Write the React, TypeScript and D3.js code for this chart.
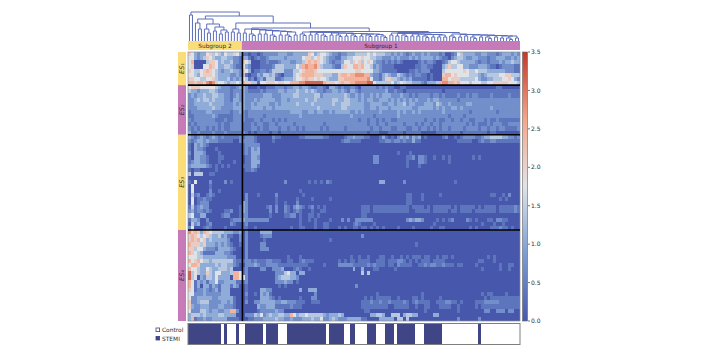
import React from "react";
import * as d3 from "d3";

// ---- Heatmap values: every digit is one cell, value = digit * 0.35 ----
const es1Rows = [
"6532335645 4354465311 0110122222 3332233333 6534554322 1223334444 5454443323 2321232232 3222120012 5433332233 2221233323 2",
"5532346543 3443322133 1012112333 3323333356 6456543221 1334455565 5443322232 3222323233 3323211023 4432233222 1223332232 3",
"5700004665 3433422165 4000112111 2333223346 7676543212 2355465645 6532212121 2100000121 2210012455 4333332122 1222323343 3",
"5600055765 3344321153 2000111124 4433335478 7786433321 1465577675 5423211110 0000001122 1100034644 5533222333 2110122221 1",
"6544567654 3233433265 3011221244 4422244567 7765555555 5555556655 5533211111 0000112122 2000045555 5565445444 3333332221 1",
"5543566654 3333223241 0113244342 1022245677 7766644433 6776778887 7322134322 4321212211 0100067756 5555444323 4444556644 4",
"6655445564 3334232354 1202314441 1233345567 6656554333 6677777777 8522136644 3232311111 0100077566 6444445322 3344455653 2",
"7767768986 5543445476 6441556665 6655777889 9999976665 6766778888 9954444453 4564433321 3334788776 7555455544 5566666555 4",
];
const es2Rows = [
"5666555554 3222112332 0001001112 2212233233 2112210332 1211221022 2221212110 0110000000 0000000000 0000000000 0001100000 0",
"4332333443 2222122232 1111212222 3323334334 3432212233 2321332122 2222223112 1101111111 1111101111 1111111111 1111111111 1",
"2323343344 3322123232 2222233322 2333344333 3344233333 3343223232 2323233322 2322121222 2122121111 2112122111 1211111211 1",
"2234344343 3322133232 2232333332 2332333334 3343333344 3344333232 3322333232 3232323222 3233222222 1222222222 2222222222 2",
"2233333433 3322232332 2323333223 2333334333 3433333343 3444333332 2333322332 3342332223 3324322322 2223322222 2222222222 2",
"2223333343 3222233332 2333323323 3333333333 3334333333 3443333332 2332333233 3333322333 3323232233 2322222222 2322222222 2",
"1222223322 2222122321 2222222222 2222333322 3323322323 3333223232 2222322222 3232232322 2222232222 2222122222 2221222222 2",
"1122222232 1111122221 2222212222 2222222322 2222222222 2222322222 2212222222 3222222222 2222222122 2212222222 2222222222 2",
"2122222221 1121122221 1122122212 1212222222 2222222222 2222222122 1221212211 2222222221 2212112212 2122112221 2112111111 1",
"1212222222 1211222211 1212211221 2222212222 2222212222 2222222222 1221221222 2212221212 2122122222 2221212111 2122211222 2",
"2121221212 1211222211 1221211222 1221221212 2222121222 2212222222 2122122211 2221122122 1212122122 2212222122 1221221111 2",
"3112111121 1121111121 0101111011 0111111111 1111111111 1111111111 0111000111 1101111100 0001111111 1011111111 0110000000 0",
];
const es3Rows = [
"3212321232 1211111212 2210000021 1000000112 2222211000 0012232221 1000131010 2323132301 0000012001 0122221123 3444433221 2",
"2123323222 1111100222 2210000010 0000000000 0000000000 0122111100 0000112212 2121131100 0000000000 1111100121 1221111111 1",
"1032321000 0000000012 2222000000",
"1032210001 0000000012 1323000000",
"2033320000 1000000012 1333000000 0000000000 0000000000 0000000000 0000000000 1000100000",
"1033221000 1100000001 1332000000 0000000000 0000000000 0000000000 0022000000 0001120221 0010010100 0000010100 0000000000 0",
"1233221000 1000010001 1333000000 0000000000 0000000000 0000000000 0022000000 0001000221 0000000100 0000000000 0",
"2333332101 0101000011 1331000000 0000000000 0000000000 0000000000 0000000000 0001000100",
"1011000001 0000000001 1210000000",
"4044400110 0000000000 0000000000",
"0000000000 0000000000 0000000000",
"1050000200 0020100000 0000000000 0020000000 1010102100 0000000000 0000330000 0020000000 0000000001 0",
"0500000100 0000000000 0000000000",
"0500000200 1000000000 0000000000 0000000100",
"0412001210 0000000002 0001000002 0000000010 0000000000 0000000000 0000000000 0001100010 0000100000 0000000000 0110010200 0",
"0501121100 0000000002 0000000001 0000001000 0100000100 0000000000 0000000000 0001100010 0000000000 0000000000 0000101000 0",
"0501222000 0000000032 0000000001 0010002000 0000000000 0000000000 0000000000 0001100000",
"1412322000 0000000132 0000001202 0021023210 1201010000 0000000011 1011111111 1111011110 1011111101 0111110101 1110111112 1",
"2312212100 0011200132 0000000202 0021012100 0100110000 0000000011 1011111111 1111001111 1011111011 0111101111 1110111112 1",
"4511330000 0122000122 0000000100 0011220100 1101000000 0000000011",
"1332002000 0000122232 2222222000 0000000100 1010000100 0202002222 2200000000 0002323320 0001010120 0002101000 1102211000 0",
"0423001200 0000210012 0000000000 0000000100 0010011000 0000012100 0010000000 0000000000 0010000000 0000000010 0010010000 0",
"2500012100 0010000011 0010000000 0000100110 0010011000 1010011011 0101010000 1000010000 0100110000 0000101000 0111211010 0",
];
const es4Rows = [
"8676376544 4433322302 0000333300 0000000000 0000000000 0000000000 0",
"6765456433 4231100202 0000122200 0000000000 0000000000 0000000020 0",
"6767563433 3332000202 0000010000 0000000000 0000000100 0",
"7666463332 3232100102 0000220000 0000000000 0000000000 0000000000 0000000000 0000001000",
"6645532221 3333210002 0000222000",
"7654311113 3322100002 0000000000",
"5554433333 3332220002 0000000000 0001000100 0000000000 0000100100 1000110010 0101011101 1001011010 0000000000 1010000000 0",
"7567544344 4444421112 2121112211 1001100121 1100000000 1010110111 1001110111 2210101011 1011110000 0000000110 0010000000 0",
"5776333334 3443321002 2232112222 1111111111 0000010000 2222211111 2121110110 2111100112 1221121110 1100001000 0000100110 0",
"7554335433 4443400012 0000220022 2300012100 1000000000 0000030030 0011000001 0000000000 0000000000 0000000010 0000100100 0",
"9454336435 5333477512 0000000002 2245330330 0000000000 0000000040 4000000000",
"9450324435 3333077552 0000000002 3444332000",
"7513231335 2233331112 0000000002 2232201000",
"7513033132 1333132001 0000000000 1010000000 0000000000 0000002000",
"6512232123 1333000001 0000332200 0000000300 3330000000",
"5522232222 2333000002 0010323100 0000000000 0020000000 0000000000 0001000000 0000000010 0000000000 0000000010 1100001",
"5223333322 3333310001 0000333210 1000000100 0220000000 0000000001 0101111100 1000011010 0000100000 0000000001 0111111111 1",
"6223444222 2332310002 0022333332 2332221110 0111000000 0000000011 1211211211 1121012111 1001112211 0100001112 2222111111 1",
"6322333222 3322210000 0003223331 1111211100 0000000000 0000000011 1111111001 1111001001 1000111100 1000001011 1111111111 1",
"5222443233 2233772000 0001222223 2200000000 0000000000 0000000001 1000000000 0000000001 0000000000 1000000002 2002220220 0",
"3444343333 4433330002 2243523433 4433753445 4444432333 4300000000 0334430044 4034433000 0033000000",
"3712232233 3331111000 1122233334 3322322233 3433522343 2223333311 0000333330 4404000000 0000000000 2000000200 0",
];

const moduleNames = ["ES₁", "ES₂", "ES₃", "ES₄"];
const subgroupNames = ["Subgroup 2", "Subgroup 1"];
const subgroupSizes = [18, 93];
const legendNames = ["Control", "STEMI"];
// alternating run lengths of columns: STEMI, Control, STEMI, ...
const statusRuns = [11,1,1,3,1,2,6,1,4,3,13,1,5,2,2,4,3,3,3,1,6,3,6,12,1,13];
const colorTicks = [0, 0.5, 1, 1.5, 2, 2.5, 3, 3.5];

// ---- Dendrogram: [height, left, right], 0 = leaf ----
const sub2Pair = [26, 0, 0];
const sub2Main = [22, [18, 0, [12, 0, 0]], [17, [12, 0, [8, 0, 0]], [14, [10, 0, 0], [11, [7, 0, 0], [9, 0, 0]]]]];
const sub2Last = [12, [9, 0, 0], [8, 0, 0]];
// [spine height, group height, leaves in group]
const chainA = [[12,8,2],[11.5,7,3],[11,7,2],[10.5,7,2],[10,6,3],[9.5,6,2],[9,6,3],[9,6,2]];
const chainB = [[9,7,3],[9,6,2],[8.5,7,2],[8.5,6,3],[8,6,2],[8,6,3],[7.5,5,2],[7.5,6,3],[7,5,2],[7,6,3],[6.5,5,2],[6.5,5,3]];
const chainC = [[8,6,2],[7.5,5,2],[7.5,6,3],[7,5,2],[7,5,2],[6.5,5,3],[6.5,4,2],[6,4,2],[6,4,2]];
const chainD = [[7,5,3],[6.5,4,2],[6.5,5,2],[6,4,3],[6,4,2],[5.5,4,3],[5.5,4,2],[5,3,2],[5,3,3],[4.5,3,2]];
const joinHeights = { root: 29, upper: 25, both: 18, sub1: 13, bc: 9.5, cd: 8.5 };

type Node = 0 | any[];
const group = ([, h, n]: number[]): Node =>
  n === 1 ? 0 : n === 2 ? [h, 0, 0] : [h, 0, [h - 1.5, 0, 0]];
const chain = (rows: number[][]): Node => {
  let node = group(rows[rows.length - 1]);
  for (let i = rows.length - 2; i >= 0; i--) node = [rows[i][0], group(rows[i]), node];
  return node;
};
const sub1Tree: Node = [joinHeights.sub1, chain(chainA),
  [joinHeights.bc, chain(chainB), [joinHeights.cd, chain(chainC), chain(chainD)]]];
const fullTree: Node = [joinHeights.root, sub2Pair,
  [joinHeights.upper, sub2Main, [joinHeights.both, sub2Last, sub1Tree]]];

const W = 704, H = 352;
const X0 = 188, X1 = 520, Y0 = 52, Y1 = 321;
const cols = d3.range(111);
const allRows = [...es1Rows, ...es2Rows, ...es3Rows, ...es4Rows];
const parsed = allRows.map((s) => {
  const t = s.replace(/\s/g, "").padEnd(111, "0").slice(0, 111);
  return Array.from(t).map((c) => +c * 0.35);
});
const blockSizes = [es1Rows.length, es2Rows.length, es3Rows.length, es4Rows.length];
const x = d3.scaleBand<number>().domain(cols).range([X0, X1]).padding(0);
const y = d3.scaleBand<number>().domain(d3.range(parsed.length)).range([Y0, Y1]).padding(0);
const color = d3.scaleLinear<string>()
  .domain([0, 0.9, 1.75, 2.6, 3.5])
  .range(["#4759ac", "#7e9fd4", "#dfe3e8", "#f6a88c", "#c0392b"]);
const colorY = d3.scaleLinear().domain([0, 3.5]).range([Y1, Y0]);
const dendroY = d3.scaleLinear().domain([0, 29]).range([41, 12]);

const YELLOW = "#fadd78";
const PURPLE = "#c77ab8";
const INK = "#2b2b2b";
const FONT = "'DejaVu Sans', sans-serif";

function dendroPaths(): string[] {
  const out: string[] = [];
  let leaf = 0;
  const walk = (n: Node): { px: number; h: number } => {
    if (n === 0) {
      const c = leaf++;
      return { px: x(c)! + x.bandwidth() / 2, h: 0 };
    }
    const [h, l, r] = n as any[];
    const a = walk(l);
    const b = walk(r);
    const p = d3.path();
    p.moveTo(a.px, dendroY(a.h));
    p.lineTo(a.px, dendroY(h));
    p.lineTo(b.px, dendroY(h));
    p.lineTo(b.px, dendroY(b.h));
    out.push(p.toString());
    return { px: (a.px + b.px) / 2, h };
  };
  walk(fullTree);
  return out;
}

export default function App() {
  const edges = d3.cumsum(blockSizes);
  const starts = [0, ...Array.from(edges)];
  const boundary = (i: number) => (i >= parsed.length ? Y1 : y(i)!);
  const splitCol = subgroupSizes[0];
  let sc = 0;
  const runs = statusRuns.map((n, i) => {
    const r = { start: sc, n, on: i % 2 === 0 };
    sc += n;
    return r;
  });
  let gc = 0;
  return (
    <svg width={W} height={H} style={{ position: "absolute", left: 0, top: 0, display: "block", background: "#fff" }} fontFamily={FONT}>
      <defs>
        <linearGradient id="cb" x1="0" y1="1" x2="0" y2="0">
          {d3.range(0, 1.001, 0.125).map((t) => (
            <stop key={t} offset={t} stopColor={color(t * 3.5)} />
          ))}
        </linearGradient>
        <filter id="soft" x="-1%" y="-1%" width="102%" height="102%">
          <feGaussianBlur stdDeviation="0.5" />
        </filter>
        <filter id="softLine" x="-2%" y="-10%" width="104%" height="120%">
          <feGaussianBlur stdDeviation="0.3" />
        </filter>
        <clipPath id="hm"><rect x={X0} y={Y0} width={X1 - X0} height={Y1 - Y0} /></clipPath>
      </defs>

      {/* dendrogram */}
      <g fill="none" stroke="#5f6fbd" strokeWidth={1} filter="url(#softLine)">
        {dendroPaths().map((d, i) => <path key={i} d={d} />)}
      </g>

      {/* subgroup strip */}
      {subgroupSizes.map((n, i) => {
        const c0 = gc;
        gc += n;
        const left = x(c0)!;
        const right = c0 + n >= 111 ? X1 : x(c0 + n)!;
        return (
          <g key={i}>
            <rect x={left} y={41} width={right - left} height={9} fill={i === 0 ? YELLOW : PURPLE} />
            <text x={i === 0 ? 215 : 381} y={47.6} fontSize={5.8} textAnchor="middle" fill={INK}>{subgroupNames[i]}</text>
          </g>
        );
      })}

      {/* module strip */}
      {moduleNames.map((m, i) => {
        const a = boundary(starts[i]);
        const b = boundary(starts[i + 1]);
        const cy = (a + b) / 2;
        return (
          <g key={m}>
            <rect x={178} y={a} width={8} height={b - a} fill={i % 2 === 0 ? YELLOW : PURPLE} />
            <text transform={`translate(184.3,${cy}) rotate(-90)`} fontSize={6.5} fontStyle="italic" textAnchor="middle" fill={INK}>{m}</text>
          </g>
        );
      })}

      {/* heatmap cells */}
      <g clipPath="url(#hm)">
        <g shapeRendering="crispEdges" filter="url(#soft)">
          {parsed.map((row, r) =>
            row.map((v, c) => (
              <rect key={`${r}-${c}`} x={x(c)} y={y(r)} width={x.bandwidth() + 0.4} height={y.bandwidth() + 0.4} fill={color(v)} />
            ))
          )}
        </g>
      </g>
      <rect x={X0} y={Y0} width={X1 - X0} height={Y1 - Y0} fill="none" stroke="#8a8a8a" strokeWidth={0.7} />

      {/* block separators */}
      <g stroke="#000" strokeWidth={1.6}>
        {[starts[1], starts[2], starts[3]].map((s) => (
          <line key={s} x1={X0} x2={X1} y1={boundary(s)} y2={boundary(s)} />
        ))}
        <line x1={x(splitCol)! + 0.6} x2={x(splitCol)! + 0.6} y1={Y0} y2={Y1} />
      </g>

      {/* colorbar */}
      <rect x={522.5} y={Y0} width={5} height={Y1 - Y0} fill="url(#cb)" stroke="#666" strokeWidth={0.6} />
      {colorTicks.map((t) => (
        <g key={t}>
          <line x1={528} x2={530} y1={colorY(t)} y2={colorY(t)} stroke="#333" strokeWidth={0.7} />
          <text x={531} y={colorY(t) + 2.1} fontSize={6} fill={INK}>{t.toFixed(1)}</text>
        </g>
      ))}

      {/* status strip */}
      <g shapeRendering="crispEdges">
        {runs.filter((r) => r.on).map((r) => (
          <rect key={r.start} x={x(r.start)} y={323.5} width={x.bandwidth() * r.n} height={21} fill="#3f4585" />
        ))}
      </g>
      <rect x={X0} y={323.5} width={X1 - X0} height={21} fill="none" stroke="#7f7f7f" strokeWidth={1} />

      {/* legend */}
      <rect x={156} y={328} width={3.6} height={3.6} fill="#fff" stroke="#3f4585" strokeWidth={0.8} />
      <text x={162} y={332.2} fontSize={5.9} fill={INK}>{legendNames[0]}</text>
      <rect x={156} y={336.4} width={3.6} height={3.6} fill="#3f4585" stroke="#3f4585" strokeWidth={0.8} />
      <text x={162} y={340.6} fontSize={5.9} fill={INK}>{legendNames[1]}</text>
    </svg>
  );
}
